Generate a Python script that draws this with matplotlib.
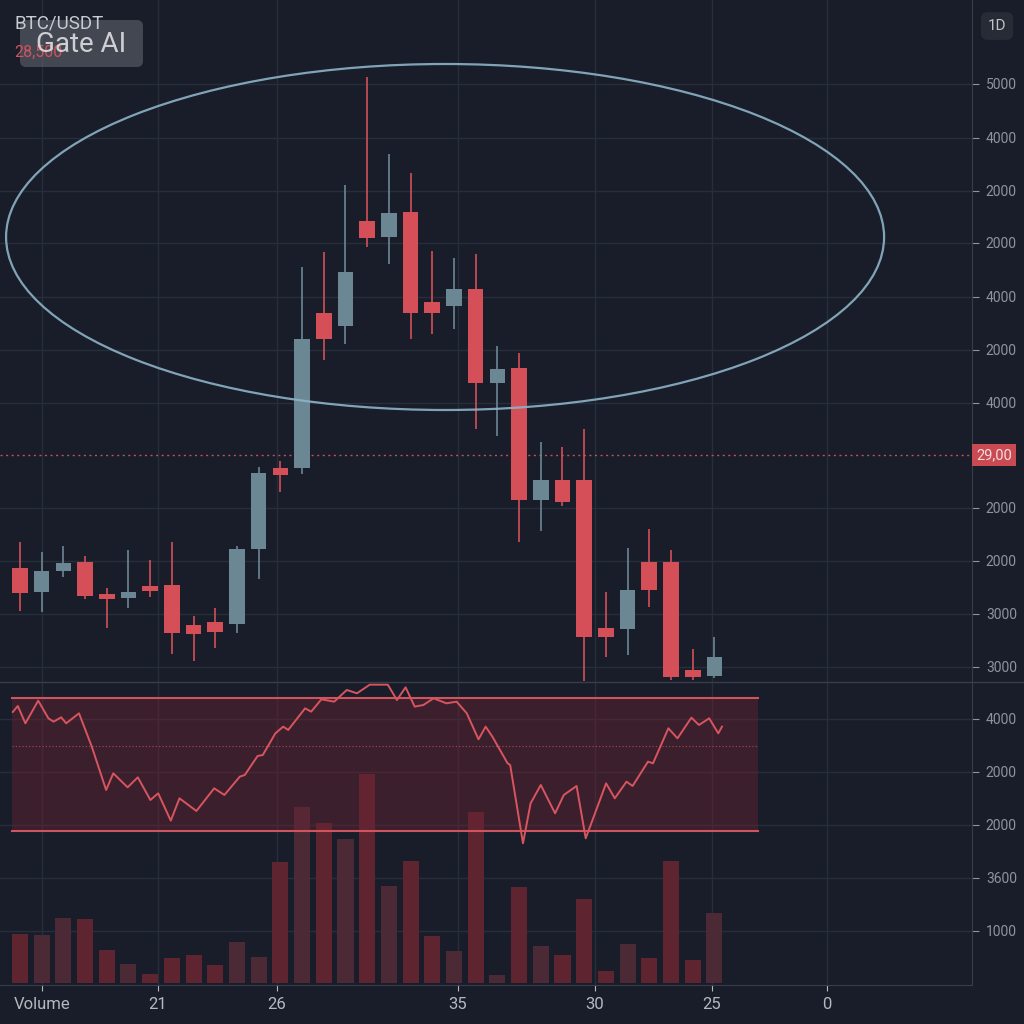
import matplotlib.pyplot as plt
from matplotlib.patches import Ellipse, FancyBboxPatch

plt.rcParams['font.family'] = ['Roboto', 'DejaVu Sans']

# candle data (index, open, high, low, close)
opens = [27370, 27130, 27340, 27430, 27110, 27070, 27190, 27200, 26800, 26830,
         26810, 27560, 28370, 28370, 29920, 29790, 30840, 30680, 30930, 30030,
         29990, 30160, 29220, 29370, 28050, 28250, 28250, 26770, 26760, 27430,
         27430, 26350, 26290]
highs = [27630, 27530, 27590, 27490, 27170, 27550, 27450, 27630, 26890, 26970,
         27590, 28380, 28440, 30380, 30530, 31200, 32280, 31510, 31320, 30540,
         30470, 30510, 29590, 29520, 28630, 28580, 28760, 27130, 27570, 27760,
         27550, 26560, 26680]
lows = [26940, 26930, 27280, 27060, 26770, 26970, 27080, 26510, 26440, 26570,
        26720, 27260, 28130, 28310, 29450, 29610, 30580, 30410, 29660, 29710,
        29760, 28760, 28690, 27630, 27740, 27990, 26240, 26480, 26500, 26980,
        26250, 26250, 26270]
closes = [27120, 27340, 27420, 27090, 27060, 27130, 27140, 26720, 26710, 26730,
          27560, 28320, 28300, 29660, 29660, 30330, 30670, 30920, 29920, 29920,
          30160, 29220, 29360, 28050, 28250, 28030, 26680, 26680, 27150, 27150,
          26280, 26280, 26480]
volumes = [980, 960, 1300, 1280, 660, 380, 180, 500, 560, 360,
           820, 520, 2420, 3520, 3200, 2880, 4180, 1940, 2440, 940,
           640, 3420, 160, 1920, 740, 560, 1680, 240, 780, 500,
           2440, 460, 1400]

rsi_x = [-0.33, -0.10, 0.25, 0.84, 1.31, 1.55, 1.90, 2.13, 2.72, 3.31, 3.97, 4.30,
         4.96, 5.43, 6.01, 6.37, 6.95, 7.35, 8.13, 8.95, 9.42, 10.13, 10.36, 10.95,
         11.19, 11.77, 12.13, 12.36, 13.14, 13.42, 13.89, 14.48, 15.06, 15.53, 16.12,
         16.95, 17.37, 17.77, 18.19, 18.59, 19.06, 19.65, 20.12, 20.59, 21.13, 21.46,
         21.77, 22.47, 22.59, 23.18, 23.53, 24.00, 24.66, 25.06, 25.65, 26.07, 26.47,
         27.01, 27.41, 27.95, 28.23, 28.94, 29.17, 29.88, 30.30, 30.94, 31.29, 31.76,
         32.18, 32.35]
rsi_y = [65.7, 67.5, 62.3, 69.1, 63.8, 62.8, 64.1, 62.3, 65.3, 55.3, 42.3, 47.3,
         43.1, 46.1, 39.3, 41.3, 33.1, 39.8, 36.0, 42.8, 40.8, 46.3, 46.8, 52.5,
         52.8, 59.3, 61.3, 60.3, 66.8, 65.8, 69.5, 68.8, 72.3, 71.3, 73.9,
         73.9, 69.3, 73.1, 67.3, 67.8, 69.8, 68.3, 68.8, 65.3, 57.5, 61.3,
         58.3, 50.3, 49.8, 26.3, 38.3, 43.8, 35.3, 40.8, 43.5, 27.8, 34.8,
         44.3, 39.8, 44.8, 43.5, 50.8, 50.3, 60.8, 57.8, 64.0, 61.8, 63.8,
         59.3, 61.3]

price_ticks = [32210, 31670, 31140, 30620, 30080, 29550, 29020, 28500, 27970, 27440, 26910, 26380]
price_labels = ['5000', '4000', '2000', '2000', '4000', '2000', '4000', '', '2000', '2000', '3000', '3000']
vol_ticks = [5280, 4220, 3160, 2100, 1040]
vol_labels = ['4000', '2000', '2000', '3600', '1000']
x_ticks = [1.01, 6.36, 11.84, 20.18, 26.5, 31.89, 37.19]
x_labels = ['Volume', '21', '26', '35', '30', '25', '0']
last_price = 28500

bg = '#181d29'
grid = '#272d39'
red = '#d44f58'
blue = '#6c8794'
tick_col = '#8e949e'

fig = plt.figure(figsize=(10.24, 10.24), dpi=100, facecolor=bg)
ax = fig.add_axes([0, 0.334, 0.9492, 0.666], facecolor=bg)
axl = fig.add_axes([0, 0.0381, 0.9492, 0.2959], facecolor=bg, sharex=ax)
axr = axl.twinx()

# candles
for i in range(len(opens)):
    o, h, l, c = opens[i], highs[i], lows[i], closes[i]
    col = blue if c >= o else red
    ax.vlines(i, l, h, color=col, lw=1.2, zorder=3)
    ax.bar(i, abs(c - o), bottom=min(o, c), width=0.72, color=col, zorder=4)

ax.set_xlim(-0.92, 43.87)
ax.set_ylim(26230, 33050)
ax.axhline(last_price, color='#c0505a', ls=(0, (1.5, 2.5)), lw=1, zorder=2)
ax.add_patch(Ellipse((19.59, 30680), 40.46, 3460, fill=False, ec='#8db3c7',
                     lw=1.6, alpha=0.9, zorder=5))

ax.set_yticks(price_ticks)
ax.set_yticklabels(price_labels)
ax.yaxis.tick_right()
for t in price_ticks:
    if t != last_price:
        ax.axhline(t, color=grid, lw=1, zorder=1)
for x in x_ticks:
    ax.axvline(x, color=grid, lw=1, zorder=1)
    axl.axvline(x, color=grid, lw=1, zorder=0)
ax.tick_params(axis='y', colors=tick_col, labelsize=10, length=5, width=0.8, pad=5)
ax.tick_params(axis='x', bottom=False, labelbottom=False)
ax.annotate('29,00', xy=(1.0, last_price), xycoords=('axes fraction', 'data'),
            xytext=(3, 0), textcoords='offset points', ha='left', va='center',
            color='#f2dede', fontsize=10.5,
            bbox=dict(boxstyle='square,pad=0.3', fc='#c94a52', ec='none'))

# volume
vol_colors = ['#4b2a36' if closes[i] >= opens[i] else '#5e2430' for i in range(len(opens))]
axl.bar(range(len(volumes)), volumes, width=0.74, color=vol_colors, zorder=2)
axl.set_ylim(-40, 6020)
axl.yaxis.tick_right()
axl.set_yticks(vol_ticks)
axl.set_yticklabels(vol_labels)
for t in vol_ticks:
    axl.axhline(t, color=grid, lw=1, zorder=0)
axl.tick_params(axis='y', colors=tick_col, labelsize=10, length=5, width=0.8, pad=5,
                left=False, labelleft=False, right=True, labelright=True)
axl.set_xticks(x_ticks)
axl.set_xticklabels(x_labels)
axl.tick_params(axis='x', colors='#b4b9c0', labelsize=12, length=4, width=0.8, pad=5)

# rsi
axr.set_ylim(-16.2, 74.7)
axr.set_yticks([])
axr.tick_params(right=False, labelright=False)
axr.fill_between([-0.37, 34.0], 30, 70, color='#6a2233', alpha=0.45, lw=0, zorder=1)
axr.axhline(30, xmin=0.0126, xmax=0.7798, color='#d0545e', lw=1.5)
axr.axhline(70, xmin=0.0126, xmax=0.7798, color='#d0545e', lw=1.5)
axr.axhline(55.4, xmin=0.0126, xmax=0.7798, color='#a8485a', lw=0.8, ls=(0, (1, 2)))
axr.plot(rsi_x, rsi_y, color='#d8555f', lw=1.4, zorder=3)

for a in (ax, axl, axr):
    for s in a.spines.values():
        s.set_visible(False)
ax.spines['right'].set_visible(True)
ax.spines['right'].set_color('#373d49')
axl.spines['right'].set_visible(True)
axl.spines['right'].set_color('#373d49')
axl.spines['bottom'].set_visible(True)
axl.spines['bottom'].set_color('#373d49')
fig.add_artist(plt.Line2D([0, 1], [0.334, 0.334], color='#373d49', lw=1))

# header texts
fig.text(0.0137, 1 - 15 / 1024, 'BTC/USDT', color='#c8ccd2', fontsize=13.5, va='top', ha='left')
fig.text(0.0137, 1 - 45 / 1024, '28,500', color='#d0545e', fontsize=11.5, va='top', ha='left')
fig.add_artist(FancyBboxPatch((20 / 1024, 1 - 67 / 1024), 123 / 1024, 47 / 1024,
                              boxstyle='round,pad=0,rounding_size=0.006',
                              fc='#6c717a', ec='none', alpha=0.5, transform=fig.transFigure))
fig.text(81 / 1024, 1 - 44 / 1024, 'Gate AI', color='#e6e8ea', fontsize=20,
         ha='center', va='center', alpha=0.85)
fig.text(997 / 1024, 1 - 26 / 1024, '1D', color='#c0c4ca', fontsize=11, ha='center', va='center',
         bbox=dict(boxstyle='round,pad=0.45', fc='#262b36', ec='none'))

fig.savefig('out.png', dpi=100, facecolor=bg)
